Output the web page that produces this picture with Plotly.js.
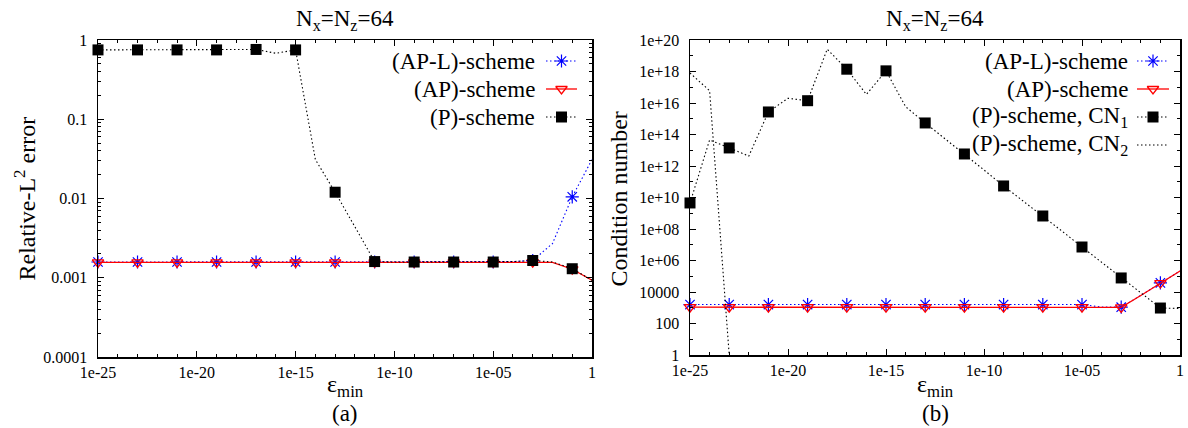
<!DOCTYPE html>
<html><head><meta charset="utf-8">
<script src="https://cdn.plot.ly/plotly-3.0.1.min.js"></script>
<style>html,body{margin:0;padding:0;background:#fff;} #chart{width:1188px;height:428px;}</style>
</head><body><div id="chart"></div>
<script>
// ---------- data ----------
const eps = [1e-25,1e-24,1e-23,1e-22,1e-21,1e-20,1e-19,1e-18,1e-17,1e-16,1e-15,1e-14,1e-13,
             1e-12,1e-11,1e-10,1e-9,1e-8,1e-7,1e-6,1e-5,1e-4,1e-3,1e-2,1e-1,1];
// (a) relative L2 error
const errAPL = [0.00158,0.00158,0.00158,0.00158,0.00158,0.00158,0.00158,0.00158,0.00158,0.00158,
                0.00158,0.00158,0.00158,0.00158,0.00158,0.00158,0.00158,0.00158,0.00158,0.00158,
                0.00158,0.00160,0.00165,0.0027,0.0105,0.031];
const errAP  = [0.00156,0.00156,0.00156,0.00156,0.00156,0.00156,0.00156,0.00156,0.00156,0.00156,
                0.00156,0.00156,0.00156,0.00156,0.00156,0.00156,0.00156,0.00156,0.00156,0.00156,
                0.00156,0.00156,0.00157,0.00156,0.00128,0.00093];
const errP   = [0.75,0.75,0.75,0.75,0.75,0.75,0.75,0.76,0.76,0.68,
                0.75,0.031,0.012,0.0044,0.0016,0.00158,0.00158,0.00158,0.00158,0.00158,
                0.00158,0.0016,0.00165,0.00158,0.0013,0.00093];
// (b) condition number
const cnAPL  = [1600,1600,1600,1600,1600,1600,1600,1600,1600,1600,
                1600,1600,1600,1600,1600,1600,1600,1600,1600,1600,
                1600,1100,1080,6100,38000,215000];
const cnAP   = [1080,1080,1080,1080,1080,1080,1080,1080,1080,1080,
                1080,1080,1080,1080,1080,1080,1080,1080,1080,1080,
                1080,1080,1060,6000,37000,215000];
const cnP1   = [4.5e9,4.5e13,1.4e13,4.3e12,2.7e15,2e16,1.4e16,2.6e19,1.4e18,3.5e16,
                1.1e18,5.8e15,5.4e14,5.6e13,5.8e12,5.6e11,5.4e10,6e9,6.7e8,7e7,
                7.2e6,7.5e5,7.8e4,8.7e3,960,900];
const epsCN2 = [1e-25,1e-24,1e-23];
const cnP2   = [8e17,6e16,1];

const xTickVals = [1e-25,1e-20,1e-15,1e-10,1e-5,1];
const xTickText = ['1e-25','1e-20','1e-15','1e-10','1e-05','1'];
const errTickVals = [1e-4,1e-3,1e-2,1e-1,1];
const errTickText = ['0.0001','0.001','0.01','0.1','1'];
const cnTickVals = [1,1e2,1e4,1e6,1e8,1e10,1e12,1e14,1e16,1e18,1e20];
const cnTickText = ['1','100','10000','1e+06','1e+08','1e+10','1e+12','1e+14','1e+16','1e+18','1e+20'];

const titleText = 'N<sub>x</sub>=N<sub>z</sub>=64';
const xTitle = '\u03b5<sub>min</sub>';
const yTitleA = 'Relative-L<sup>2</sup> error';
const yTitleB = 'Condition number';
const panelA = '(a)';
const panelB = '(b)';
const legendA = ['(AP-L)-scheme','(AP)-scheme','(P)-scheme'];
const legendB = ['(AP-L)-scheme','(AP)-scheme','(P)-scheme, CN<sub>1</sub>','(P)-scheme, CN<sub>2</sub>'];

// ---------- style ----------
const W = 1188, H = 428;
const FONT = 'Liberation Serif, serif';
const DOT = '1.5px,2.5px';
const S_APL = {color:'#0000ff', dash:DOT, width:1.1, symbol:'asterisk-open', size:11, lw:1.2};
const S_AP  = {color:'#ff0000', dash:'solid', width:1.3, symbol:'triangle-down-open', size:10, lw:1.3};
const S_P   = {color:'#000000', dash:DOT, width:1.1, symbol:'square', size:11, lw:0};
const S_P2  = {color:'#000000', dash:DOT, width:1.1, symbol:null};

const boxA = {l:98, r:592, t:40, b:357};
const boxB = {l:690, r:1180, t:40, b:355};

function minorDecades(lo, hi, skipEvery) {
  const v = [];
  for (let k = lo; k <= hi; k++) if (k % skipEvery !== 0) v.push(Math.pow(10, k));
  return v;
}
function minorDigits(lo, hi) {
  const v = [];
  for (let k = lo; k < hi; k++) for (let m = 2; m <= 9; m++) v.push(m * Math.pow(10, k));
  return v;
}

const traces = [];
function addSeries(xs, ys, xa, ya, st) {
  traces.push({x:xs, y:ys, xaxis:xa, yaxis:ya, type:'scatter', mode:'lines',
    line:{color:st.color, dash:st.dash, width:st.width}, hoverinfo:'skip', showlegend:false});
  if (st.symbol) {
    traces.push({x:xs.filter((_, i) => i % 2 === 0), y:ys.filter((_, i) => i % 2 === 0),
      xaxis:xa, yaxis:ya, type:'scatter', mode:'markers', cliponaxis:false,
      marker:{symbol:st.symbol, size:st.size, color:st.color, line:{color:st.color, width:st.lw}},
      hoverinfo:'skip', showlegend:false});
  }
}
addSeries(eps, errAPL, 'x', 'y', S_APL);
addSeries(eps, errAP, 'x', 'y', S_AP);
addSeries(eps, errP, 'x', 'y', S_P);
addSeries(eps, cnAPL, 'x2', 'y2', S_APL);
addSeries(eps, cnAP, 'x2', 'y2', S_AP);
addSeries(eps, cnP1, 'x2', 'y2', S_P);
addSeries(epsCN2, cnP2, 'x2', 'y2', S_P2);

// legend keys drawn in pixel space on an overlay axis pair
const annotations = [];
function addLegend(labels, styles, textRight, x0, x1, rows) {
  labels.forEach((lab, i) => {
    const st = styles[i], y = rows[i];
    annotations.push({xref:'x3', yref:'y3', x:textRight, y:y, xanchor:'right', yanchor:'middle',
      text:lab, showarrow:false, font:{family:FONT, size:23, color:'#000'}});
    traces.push({x:[x0, x1], y:[y, y], xaxis:'x3', yaxis:'y3', mode:'lines',
      line:{color:st.color, dash:st.dash, width:st.width}, hoverinfo:'skip', showlegend:false});
    if (st.symbol) traces.push({x:[(x0 + x1) / 2], y:[y], xaxis:'x3', yaxis:'y3', mode:'markers',
      cliponaxis:false,
      marker:{symbol:st.symbol, size:st.size, color:st.color, line:{color:st.color, width:st.lw}},
      hoverinfo:'skip', showlegend:false});
  });
}
addLegend(legendA, [S_APL, S_AP, S_P], 537, 546, 577, [61, 89, 117]);
addLegend(legendB, [S_APL, S_AP, S_P, S_P2], 1130, 1137, 1169, [61, 89, 117, 145]);

function txt(x, y, text, size, angle) {
  annotations.push({xref:'x3', yref:'y3', x:x, y:y, xanchor:'center', yanchor:'middle',
    text:text, showarrow:false, textangle:angle || 0, font:{family:FONT, size:size, color:'#000'}});
}
const cxA = (boxA.l + boxA.r) / 2, cxB = (boxB.l + boxB.r) / 2;
txt(cxA, 20, titleText, 23);
txt(cxB, 20, titleText, 23);
txt(cxA, 386, xTitle, 24);
txt(cxB, 386, xTitle, 24);
txt(cxA, 413, panelA, 23);
txt(cxB, 413, panelB, 23);
txt(24, (boxA.t + boxA.b) / 2, yTitleA, 24, -90);
txt(618, (boxB.t + boxB.b) / 2 + 2, yTitleB, 24, -90);

const TICKFONT = {family:FONT, size:16, color:'#000000'};
function axisCommon() {
  return {type:'log', showline:true, linecolor:'#000', linewidth:1.5, mirror:'allticks',
    ticks:'inside', ticklen:6, tickwidth:1, tickcolor:'#000', showgrid:false, zeroline:false,
    tickmode:'array', tickfont:TICKFONT, fixedrange:true};
}
function minorCfg(vals) {
  return {tickmode:'array', tickvals:vals, ticks:'inside', ticklen:3, tickwidth:1, tickcolor:'#000', showgrid:false};
}
const xMinor = minorDecades(-25, 0, 5);

const layout = {
  width:W, height:H, margin:{l:0, r:0, t:0, b:0},
  font:{family:FONT, size:16, color:'#000000'},
  paper_bgcolor:'#fff', plot_bgcolor:'rgba(0,0,0,0)', showlegend:false,
  xaxis: Object.assign(axisCommon(), {domain:[boxA.l / W, boxA.r / W], range:[-25, 0], anchor:'y',
    tickvals:xTickVals, ticktext:xTickText, minor:minorCfg(xMinor), ticklabelstandoff:0}),
  yaxis: Object.assign(axisCommon(), {domain:[1 - boxA.b / H, 1 - boxA.t / H], range:[-4, 0], anchor:'x',
    tickvals:errTickVals, ticktext:errTickText, minor:minorCfg(minorDigits(-4, 0)), ticklabelstandoff:6}),
  xaxis2: Object.assign(axisCommon(), {domain:[boxB.l / W, boxB.r / W], range:[-25, 0], anchor:'y2',
    tickvals:xTickVals, ticktext:xTickText, minor:minorCfg(xMinor), ticklabelstandoff:0}),
  yaxis2: Object.assign(axisCommon(), {domain:[1 - boxB.b / H, 1 - boxB.t / H], range:[0, 20], anchor:'x2',
    tickvals:cnTickVals, ticktext:cnTickText, minor:minorCfg(minorDecades(1, 19, 2)), ticklabelstandoff:6}),
  xaxis3: {domain:[0, 1], range:[0, W], visible:false, fixedrange:true, anchor:'y3'},
  yaxis3: {domain:[0, 1], range:[H, 0], visible:false, fixedrange:true, anchor:'x3'},
  annotations: annotations
};

Plotly.newPlot('chart', traces, layout, {displayModeBar:false, staticPlot:true});
</script>
</body></html>
